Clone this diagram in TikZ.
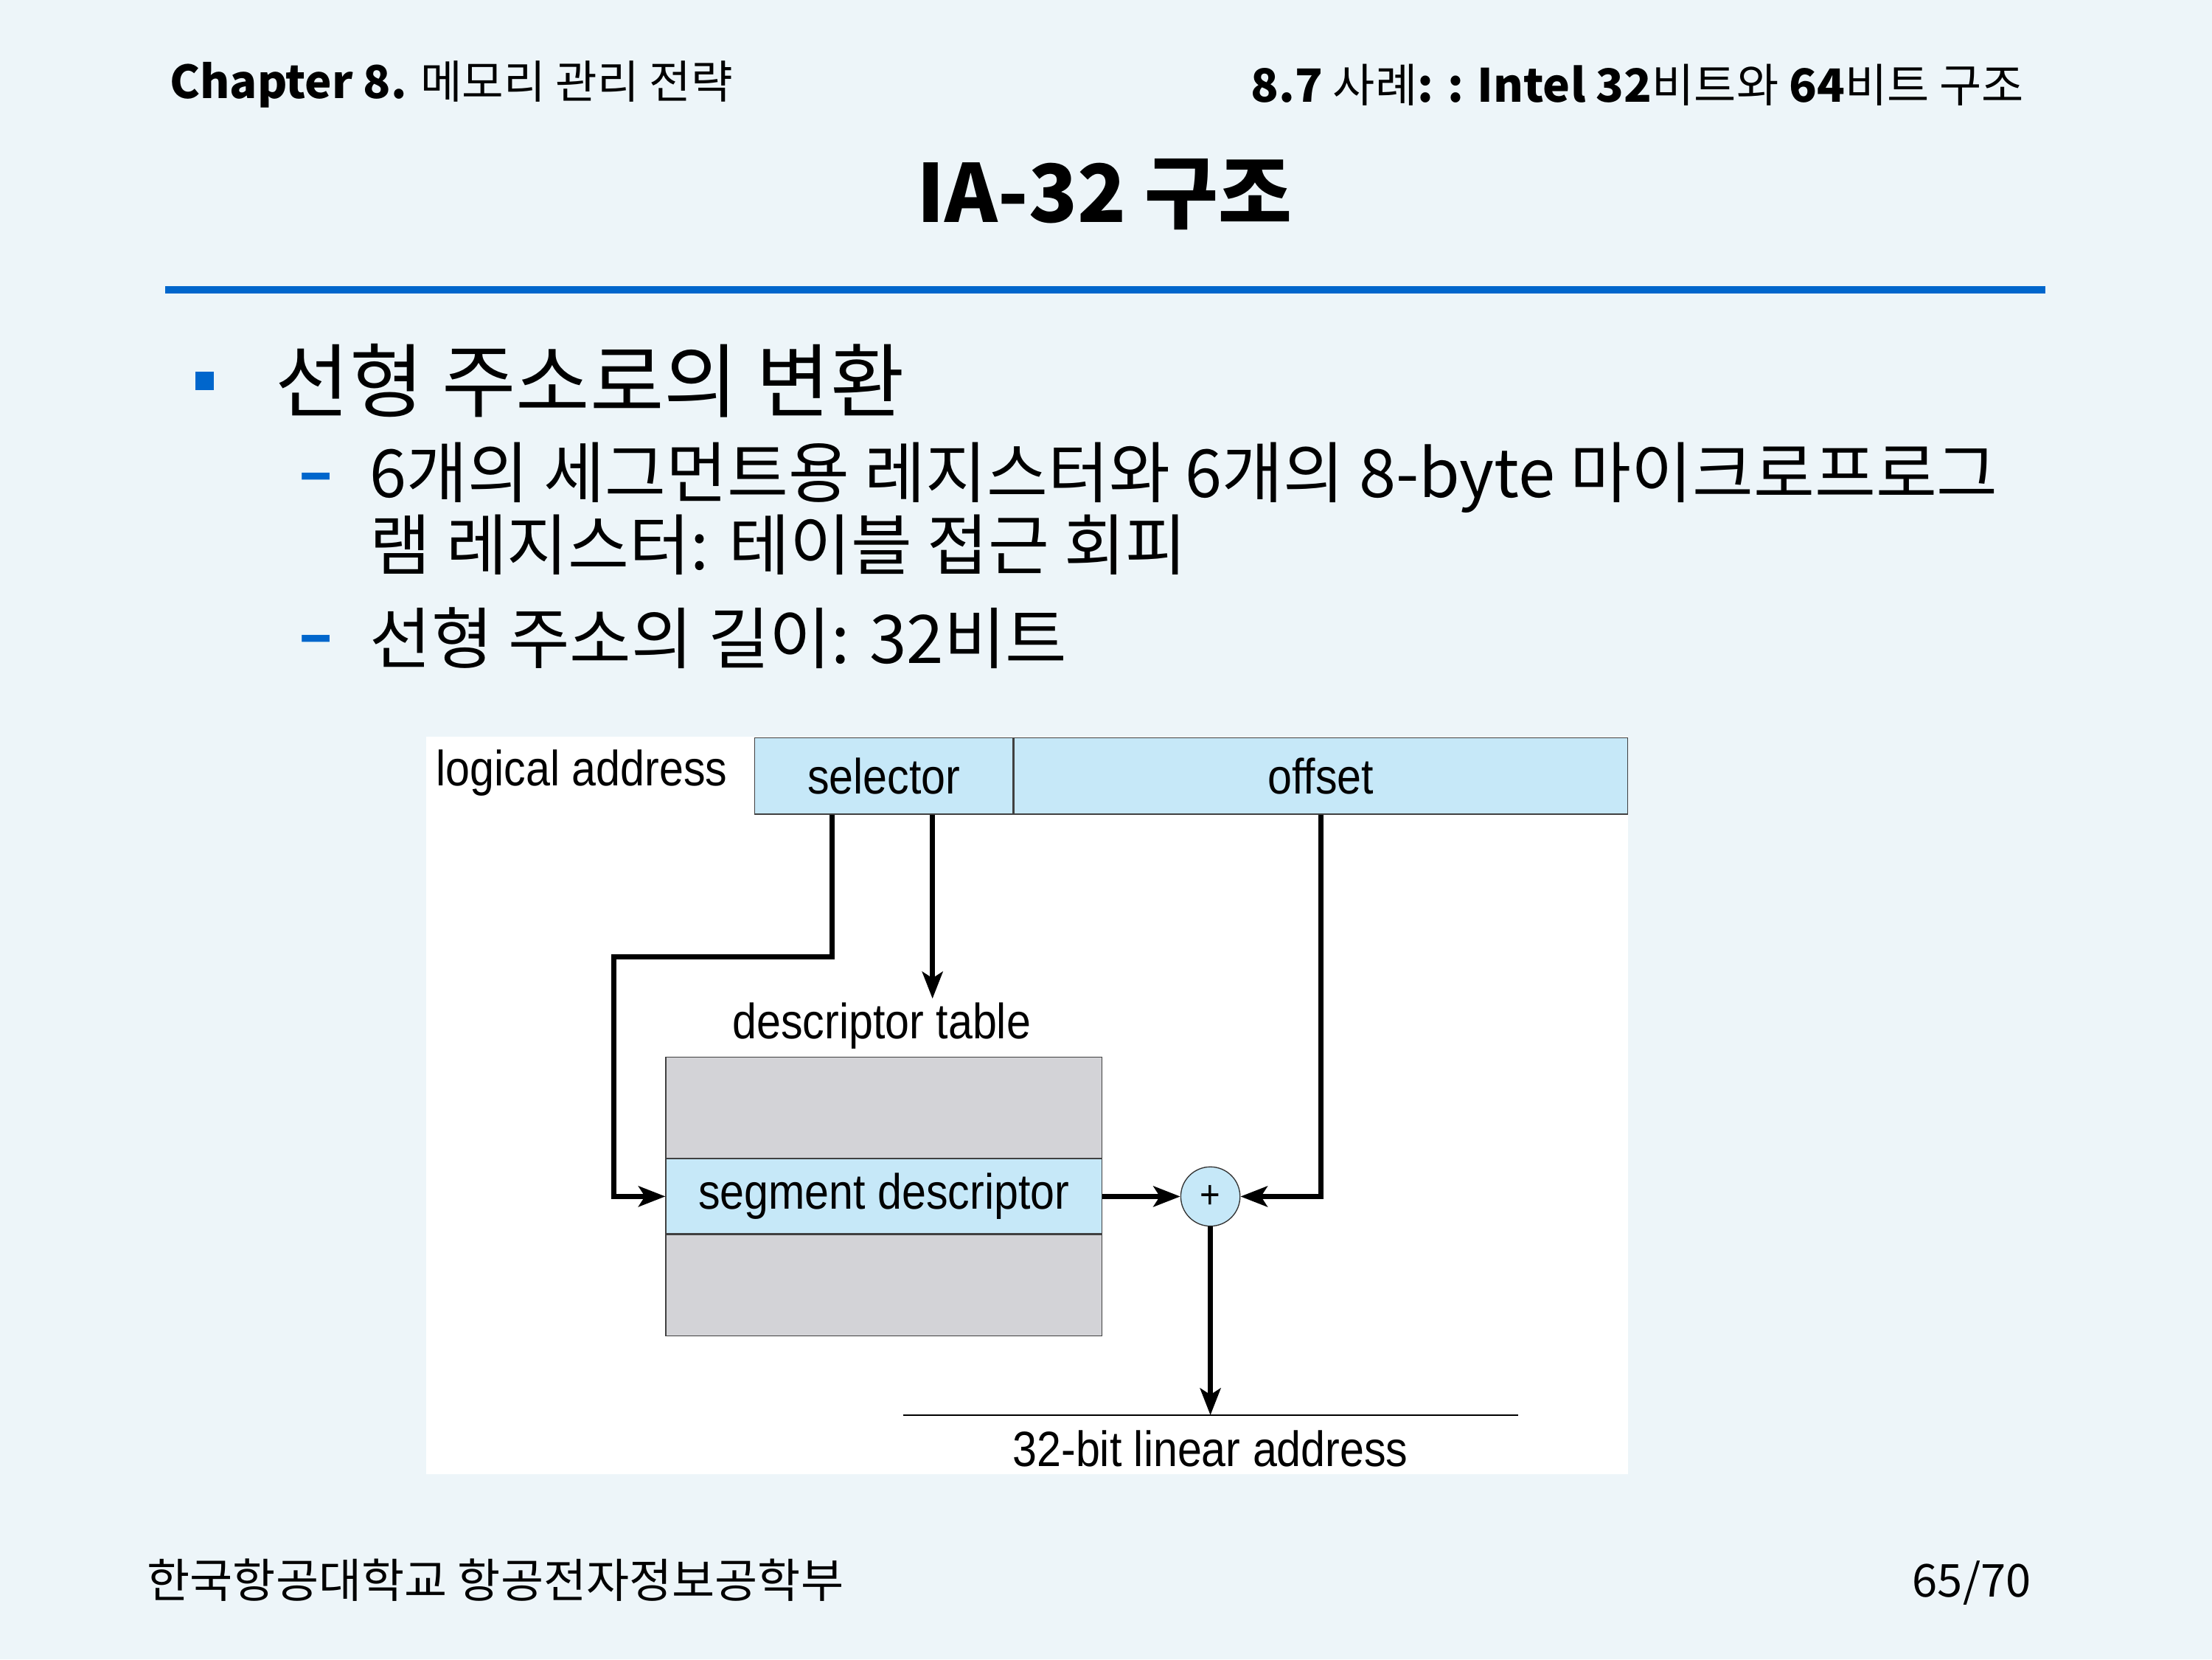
\documentclass[tikz,border=0pt]{standalone}
\usepackage{fontspec}
\setmainfont{Noto Sans CJK KR}
\newfontfamily\diafont[FakeStretch=0.88]{Liberation Sans}
\usepackage{tikz}
\usetikzlibrary{arrows.meta, positioning}
\definecolor{slidebg}{HTML}{EDF5F9}
\definecolor{slideblue}{HTML}{0066CC}
\definecolor{fieldblue}{HTML}{C6E8F8}
\definecolor{tablegray}{HTML}{D3D3D7}
\tikzstyle{field} = [rectangle, draw=black!75, fill=fieldblue, minimum height=10.8mm, inner sep=0pt, font={\diafont\fontsize{20pt}{24pt}\selectfont}]
\tikzstyle{slot} = [rectangle, draw=black!75, fill=tablegray, minimum width=61.8mm, minimum height=14.3mm, inner sep=0pt]
\tikzstyle{label} = [inner sep=0pt, font={\diafont\fontsize{20pt}{24pt}\selectfont}]
\tikzstyle{adder} = [circle, draw=black!80, fill=fieldblue, minimum size=8.4mm, inner sep=0pt, font={\diafont\fontsize{16pt}{18pt}\selectfont}]
\tikzstyle{arrow} = [line width=2pt,-{Stealth[length=3.8mm, width=2.9mm, inset=0.9mm]}]
\tikzstyle{header} = [anchor=west, inner sep=0pt, font=\fontsize{18.3pt}{22pt}\selectfont]
\tikzstyle{bullettext} = [anchor=west, inner sep=0pt, align=left]

\begin{document}
\begin{tikzpicture}[x=0.2mm, y=-0.2mm]
		\fill [slidebg] (0,0) rectangle (1568,1176);
		\useasboundingbox (0,0) rectangle (1568,1176);
		
		\node (chap) [header] at (120,60) {\textbf{Chapter 8.} 메모리 관리 전략};
		\node (sect) [header, anchor=east, font=\fontsize{18.5pt}{22pt}\selectfont] at (1435,60) {\textbf{8.7} 사례\textbf{: : Intel 32}비트와 \textbf{64}비트 구조};
		\node (title) [inner sep=0pt, font=\bfseries\fontsize{32.3pt}{36pt}\selectfont] at (783,138) {IA-32 구조};
		\fill [slideblue] (117,203) rectangle (1450,208);
		
		\node (b1) [rectangle, fill=slideblue, minimum size=2.6mm, inner sep=0pt] at (145,270) {};
		\node (t1) [bullettext, font=\fontsize{32.5pt}{38pt}\selectfont] at (195,270) {선형 주소로의 변환};
		\node (d1) [text=slideblue, font=\bfseries\fontsize{25pt}{29pt}\selectfont] at (224,343) {–};
		\node (t2) [bullettext, anchor=north west, font=\fontsize{26.8pt}{29.2pt}\selectfont] at (262,313) {6개의 세그먼트용 레지스터와 6개의 8-byte 마이크로프로그\\램 레지스터: 테이블 접근 회피};
		\node (d2) [text=slideblue, font=\bfseries\fontsize{25pt}{29pt}\selectfont] at (224,458) {–};
		\node (t3) [bullettext, font=\fontsize{27pt}{29pt}\selectfont] at (262,452) {선형 주소의 길이: 32비트};
		
		% diagram
		\fill [white] (302,522) rectangle (1154,1045);
		\node (logaddr) [label, anchor=east] at (516,548) {logical address};
		\node (sel) [field, minimum width=36.6mm] at (626.5,550) {selector};
		\node (off) [field, minimum width=87mm, anchor=west] at (sel.east) {offset};
		
		\node (dlabel) [label] at (625,727) {descriptor table};
		\node (dtop) [slot] at (626.5,785) {};
		\node (segdesc) [field, minimum width=61.8mm, minimum height=10.6mm, below=0pt of dtop] {segment descriptor};
		\node (dbot) [slot, below=0pt of segdesc] {};
		
		\node (sum) [adder] at (858,848) {+};
		
		\coordinate (bend) at (435,678);
		\coordinate (lin1) at (640,1003);
		\coordinate (lin2) at (1076,1003);
		\node (linaddr) [label] at (858,1027) {32-bit linear address};
		
		\draw [arrow] ([xshift=-7.3mm]sel.south) |- (bend) |- (segdesc.west);
		\draw [arrow] ([xshift=6.9mm]sel.south) -- ([xshift=6.9mm,yshift=0.5mm]sel.south |- dlabel.north);
		\draw [arrow] (off.south) |- (sum.east);
		\draw [arrow] (segdesc.east) -- (sum.west);
		\draw [arrow] (sum.south) -- (sum.south |- lin1);
		\draw [line width=0.6pt] (lin1) -- (lin2);
		
		\node (school) [header, font=\fontsize{18.8pt}{22pt}\selectfont] at (104,1120) {한국항공대학교 항공전자정보공학부};
		\node (page) [header, anchor=east] at (1440,1122) {65/70};
		
		\end{tikzpicture}
\end{document}
